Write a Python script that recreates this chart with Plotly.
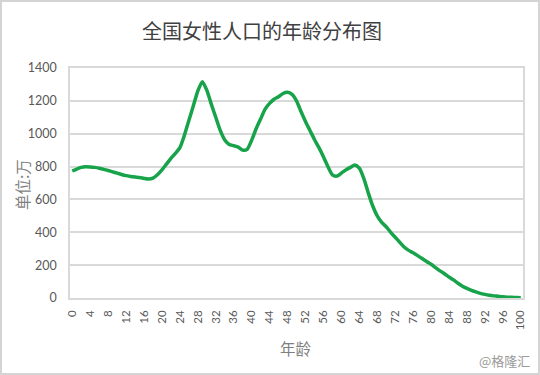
import plotly.graph_objects as go

ages = list(range(0, 101))
female_pop = [
    773, 785, 795, 799, 798, 795, 790, 783, 776, 768,
    760, 752, 745, 740, 736, 733, 728, 724, 730, 750,
    780, 815, 850, 880, 915, 990, 1080, 1170, 1260, 1317,
    1265, 1180, 1100, 1020, 962, 935, 927, 918, 900, 905,
    960, 1030, 1090, 1150, 1185, 1210, 1225, 1245, 1252, 1240,
    1200, 1135, 1075, 1020, 965, 915, 860, 800, 750, 742,
    760, 780, 795, 810, 790, 728, 640, 560, 500, 460,
    434, 400, 370, 340, 310, 290, 275, 258, 240, 222,
    205, 185, 165, 148, 128, 110, 90, 72, 58, 47,
    37, 28, 22, 17, 13, 10, 7, 5, 4, 3, 2,
]
x_ticks = list(range(0, 101, 4))
y_ticks = [0, 200, 400, 600, 800, 1000, 1200, 1400]

title_text = "全国女性人口的年龄分布图"
x_title = "年龄"
y_title = "单位:万"
watermark = "@格隆汇"

W, H = 540, 375
L, R, T, B = 70, 17, 68, 77
pw, ph = W - L - R, H - T - B

cjk = "Noto Sans CJK SC"
num_font = "Lato, Noto Sans CJK SC"

fig = go.Figure()
fig.add_trace(go.Scatter(
    x=ages, y=female_pop, mode="lines",
    line=dict(color="#17a34a", width=3.5, shape="spline", smoothing=0.6),
    hoverinfo="skip", showlegend=False,
))

fig.update_layout(
    width=W, height=H,
    margin=dict(l=L, r=R, t=T, b=B),
    paper_bgcolor="white", plot_bgcolor="white",
    title=dict(text=title_text, x=262 / W, xanchor="center", y=1 - 32 / H, yanchor="middle",
               font=dict(family=cjk, size=20, color="#404040")),
    xaxis=dict(
        range=[-0.5, 100.5], tickmode="array", tickvals=x_ticks,
        ticktext=[str(v) for v in x_ticks], tickangle=-90,
        tickfont=dict(family=num_font, size=11.5, color="#595959"),
        showgrid=False, zeroline=False,
        showline=True, linecolor="#d9d9d9", linewidth=1.5, mirror=True,
        ticks="outside", ticklen=6, tickcolor="rgba(0,0,0,0)",
        fixedrange=True,
    ),
    yaxis=dict(
        range=[0, 1400], tickmode="array", tickvals=y_ticks,
        tickfont=dict(family=num_font, size=12.5, color="#595959"),
        showgrid=True, gridcolor="#d9d9d9", gridwidth=1.8, zeroline=False,
        showline=True, linecolor="#d9d9d9", linewidth=1.5, mirror=True,
        ticks="outside", ticklen=9, tickcolor="rgba(0,0,0,0)",
        fixedrange=True,
    ),
    annotations=[
        dict(text=x_title, xref="paper", yref="paper", x=(296 - L) / pw, y=-(348 - T - ph) / ph,
             showarrow=False, xanchor="center", yanchor="middle",
             font=dict(family=cjk, size=15.5, color="#7f7f7f")),
        dict(text=y_title, xref="paper", yref="paper", x=-(L - 22) / pw, y=(H - B - 185) / ph,
             showarrow=False, xanchor="center", yanchor="middle", textangle=-90,
             font=dict(family=cjk, size=15.5, color="#7f7f7f")),
        dict(text=watermark, xref="paper", yref="paper", x=(532 - L) / pw, y=-(360 - T - ph) / ph,
             showarrow=False, xanchor="right", yanchor="middle",
             font=dict(family=cjk, size=13, color="#9a9a9a")),
    ],
    shapes=[
        dict(type="rect", xref="paper", yref="paper",
             x0=-(L - 1) / pw, x1=1 + (R - 1) / pw,
             y0=-(B - 1) / ph, y1=1 + (T - 1) / ph,
             line=dict(color="#d4d4d4", width=2), fillcolor="rgba(0,0,0,0)", layer="below"),
    ],
)

fig.write_html("out.html", config={"displayModeBar": False})
